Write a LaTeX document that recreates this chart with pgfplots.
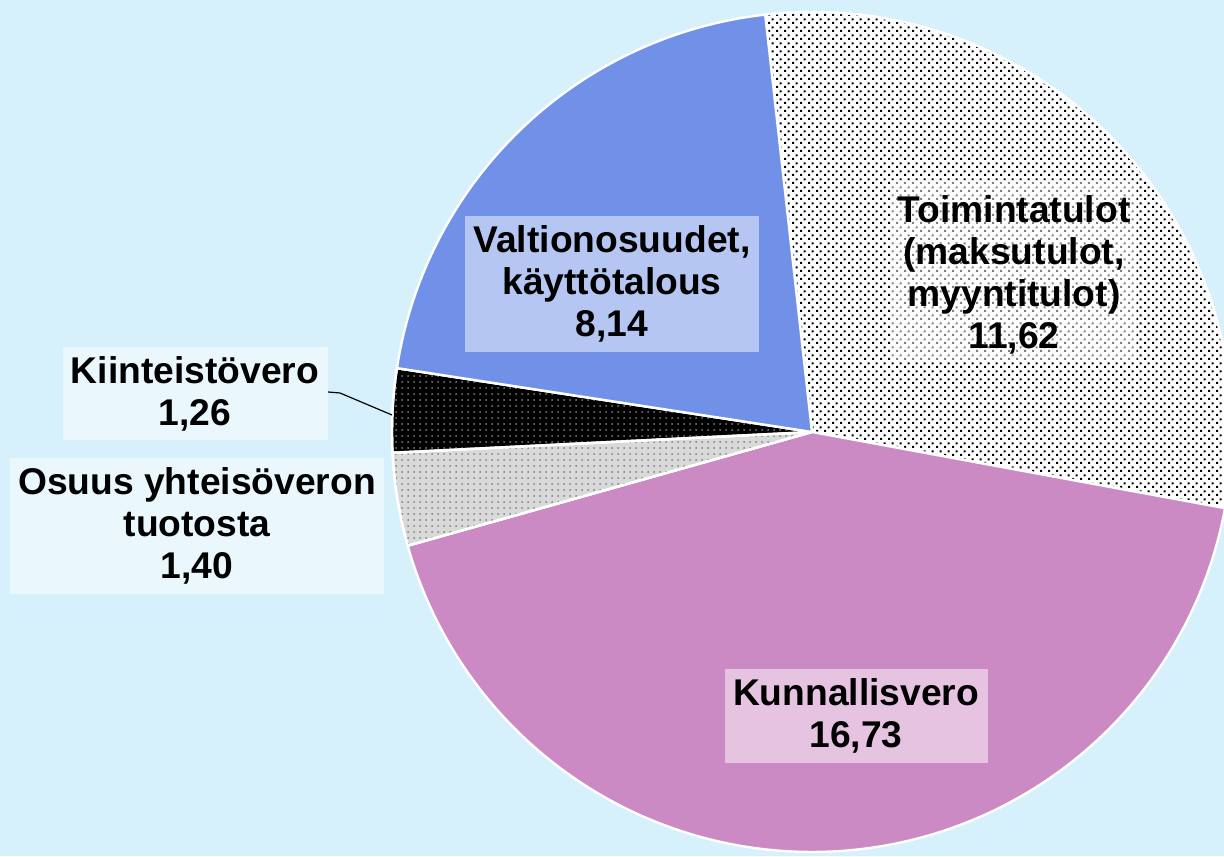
\documentclass[border=0pt]{standalone}
\usepackage{pgfplots}
\pgfplotsset{compat=1.18}
\usepackage{pgfplotstable}
\usepackage{fontspec}
\setmainfont{Liberation Sans}
\usetikzlibrary{patterns}

\definecolor{bg}{HTML}{D6F0FC}
\definecolor{cValt}{HTML}{7191E8}
\definecolor{cKunn}{HTML}{CC8AC4}
\definecolor{cOsuus}{HTML}{D9D9D9}
\definecolor{bValt}{HTML}{B5C6F3}
\definecolor{bKunn}{HTML}{E6C4E1}
\definecolor{bLeft}{HTML}{EAF8FE}

\pgfdeclarepatternformonly{sdots}{\pgfqpoint{0pt}{0pt}}{\pgfqpoint{4pt}{4pt}}{\pgfqpoint{4pt}{4pt}}{%
  \pgfpathrectangle{\pgfqpoint{0pt}{0pt}}{\pgfqpoint{1.2pt}{1.2pt}}%
  \pgfpathrectangle{\pgfqpoint{2pt}{2pt}}{\pgfqpoint{1.2pt}{1.2pt}}%
  \pgfusepath{fill}}

\pgfplotstableread{
label value
Toimintatulot 11.62
Kunnallisvero 16.73
Osuus 1.40
Kiinteistovero 1.26
Valtionosuudet 8.14
}\piedata

\pgfplotstablegetelem{0}{value}\of\piedata \let\vA\pgfplotsretval
\pgfplotstablegetelem{1}{value}\of\piedata \let\vB\pgfplotsretval
\pgfplotstablegetelem{2}{value}\of\piedata \let\vC\pgfplotsretval
\pgfplotstablegetelem{3}{value}\of\piedata \let\vD\pgfplotsretval
\pgfplotstablegetelem{4}{value}\of\piedata \let\vE\pgfplotsretval
\pgfmathsetmacro\tot{\vA+\vB+\vC+\vD+\vE}
\pgfmathsetmacro\aA{96.4}
\pgfmathsetmacro\aB{\aA-360*\vA/\tot}
\pgfmathsetmacro\aC{\aB-360*\vB/\tot}
\pgfmathsetmacro\aD{\aC-360*\vC/\tot}
\pgfmathsetmacro\aE{\aD-360*\vD/\tot}
\pgfmathsetmacro\aF{\aE-360*\vE/\tot}

\newcommand\slice[3]{%
\addplot[#3, line width=1.2pt, samples at={-1,0,1,...,120,121}, variable=\t, no markers]
 ({ifthenelse(\t<0 || \t>120, 812, 812+420*cos(#1+(#2-#1)*\t/120))},
  {ifthenelse(\t<0 || \t>120, 424, 424+420*sin(#1+(#2-#1)*\t/120))});
}

\tikzset{lbl/.style={font=\fontsize{18.6}{21}\selectfont\bfseries, align=center, inner sep=0pt, text=black}}

\begin{document}
\begin{tikzpicture}
\fill[bg] (0,0) rectangle (612pt,428pt);
\begin{axis}[
  scale only axis, width=612pt, height=428pt,
  xmin=0, xmax=1224, ymin=0, ymax=856,
  hide axis, clip=true,
]
\slice{\aA}{\aB}{draw=white, preaction={fill=white}, pattern=sdots, pattern color=black}
\slice{\aB}{\aC}{draw=white, fill=cKunn}
\slice{\aC}{\aD}{draw=white, preaction={fill=cOsuus}, pattern=dots, pattern color=gray}
\slice{\aD}{\aE}{draw=white, preaction={fill=black}, pattern=dots, pattern color=gray}
\slice{\aE}{\aF}{draw=white, fill=cValt}

\fill[white, opacity=0.5] (axis cs:890,676) rectangle (axis cs:1137,496);
\node[lbl] at (axis cs:1014,581)
  {Toimintatulot\\(maksutulot,\\myyntitulot)\\11,62};
\node[lbl, fill=bValt, minimum width=147pt, minimum height=68pt] at (axis cs:612,572)
  {Valtionosuudet,\\käyttötalous\\8,14};
\node[lbl, fill=bKunn, minimum width=131.5pt, minimum height=46.5pt] at (axis cs:856,140)
  {Kunnallisvero\\16,73};
\draw[black, line width=0.6pt] (axis cs:328,464) -- (axis cs:340,463) -- (axis cs:392,441);
\node[lbl, fill=bLeft, minimum width=132.5pt, minimum height=46.5pt] at (axis cs:195,462)
  {Kiinteistövero\\1,26};
\node[lbl, fill=bLeft, minimum width=187pt, minimum height=68pt] at (axis cs:197,330)
  {Osuus yhteisöveron\\tuotosta\\1,40};
\end{axis}
\end{tikzpicture}
\end{document}
